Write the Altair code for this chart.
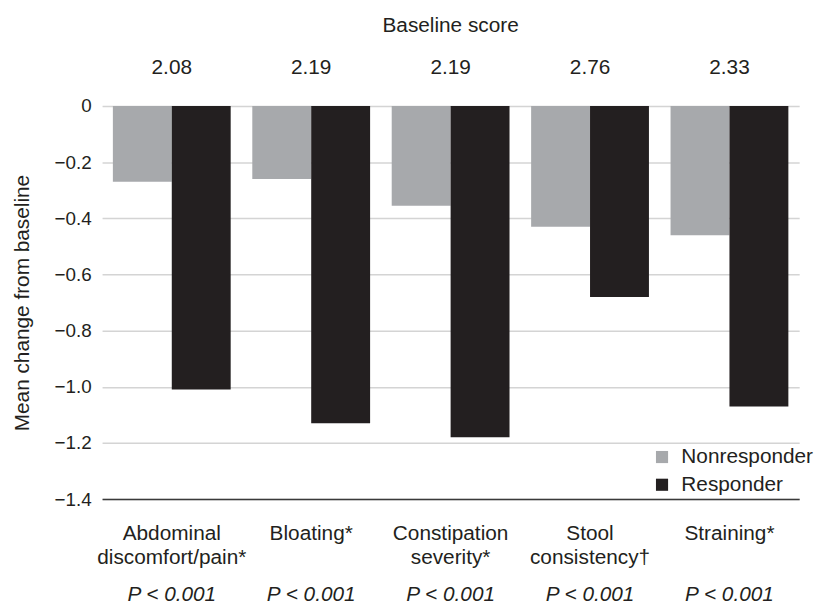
import altair as alt
import pandas as pd

categories = ["Abdominal discomfort/pain*", "Bloating*", "Constipation severity*",
              "Stool consistency†", "Straining*"]
label_lines = [["Abdominal", "discomfort/pain*"], ["Bloating*"], ["Constipation", "severity*"],
               ["Stool", "consistency†"], ["Straining*"]]
groups = ["Nonresponder", "Responder"]
nonresponder = [-0.27, -0.26, -0.355, -0.43, -0.46]
responder = [-1.01, -1.13, -1.18, -0.68, -1.07]
baseline_scores = ["2.08", "2.19", "2.19", "2.76", "2.33"]
p_values = ["P < 0.001", "P < 0.001", "P < 0.001", "P < 0.001", "P < 0.001"]
y_ticks = [0, -0.2, -0.4, -0.6, -0.8, -1.0, -1.2, -1.4]

FONT = "Liberation Sans"
TXT = "#231f20"

rows = []
for c, n, r in zip(categories, nonresponder, responder):
    rows.append({"category": c, "group": "Nonresponder", "value": n})
    rows.append({"category": c, "group": "Responder", "value": r})
bars_df = pd.DataFrame(rows)
text_df = pd.DataFrame({"category": categories, "baseline": baseline_scores, "p": p_values})

cat_js = "[" + ",".join("'" + c + "'" for c in categories) + "]"
lines_js = "[" + ",".join("[" + ",".join("'" + l + "'" for l in ls) + "]" for ls in label_lines) + "]"

x_enc = alt.X(
    "category:N", sort=categories, title=None,
    scale=alt.Scale(paddingInner=0.155, paddingOuter=0.0775),
    axis=alt.Axis(labelExpr=f"{lines_js}[indexof({cat_js}, datum.value)]",
                  labelAngle=0, labelFont=FONT, labelFontSize=21, labelColor=TXT,
                  labelLineHeight=24, labelBaseline="top", labelPadding=24,
                  ticks=False, domainColor="#3a3a3a", domainWidth=1.5, grid=False),
)

bars = alt.Chart(bars_df).mark_bar().encode(
    x=x_enc,
    xOffset=alt.XOffset("group:N", sort=groups,
                        scale=alt.Scale(paddingInner=0, paddingOuter=0)),
    y=alt.Y("value:Q", title="Mean change from baseline",
            scale=alt.Scale(domain=[-1.4, 0], nice=False, zero=False),
            axis=alt.Axis(values=y_ticks,
                          labelExpr="datum.value == 0 ? '0' : format(datum.value, '.1f')",
                          labelFont=FONT, labelFontSize=19, labelColor=TXT, labelPadding=11,
                          ticks=False, domain=False, gridColor="#d4d4d4", gridWidth=1.5,
                          titleFont=FONT, titleFontSize=21, titleFontWeight="normal",
                          titleColor=TXT, titlePadding=22)),
    color=alt.Color("group:N", sort=groups,
                    scale=alt.Scale(domain=groups, range=["#a7a9ac", "#231f20"]),
                    legend=alt.Legend(title=None, orient="none", legendX=555, legendY=344,
                                      symbolType="square", symbolSize=150, symbolOpacity=1,
                                      labelFont=FONT, labelFontSize=21, labelColor=TXT,
                                      labelOffset=9, rowPadding=6, padding=0)),
)

baseline_text = alt.Chart(text_df).mark_text(
    font=FONT, fontSize=21, color=TXT, baseline="middle"
).encode(x=x_enc, y=alt.value(-38), text="baseline:N")

p_text = alt.Chart(text_df).mark_text(
    font=FONT, fontSize=21, color=TXT, baseline="middle", fontStyle="italic"
).encode(x=x_enc, y=alt.value(494), text="p:N")

chart = alt.layer(bars, baseline_text, p_text).properties(
    width=704, height=397,
    title=alt.TitleParams("Baseline score", font=FONT, fontSize=21, fontWeight="normal",
                          color=TXT, anchor="middle", offset=22),
    padding={"left": 95, "top": 96, "right": 17, "bottom": 108},
    autosize=alt.AutoSizeParams(type="none"),
).configure_view(stroke=None)

chart.save("out.html", embed_options={"renderer": "svg", "actions": False})
